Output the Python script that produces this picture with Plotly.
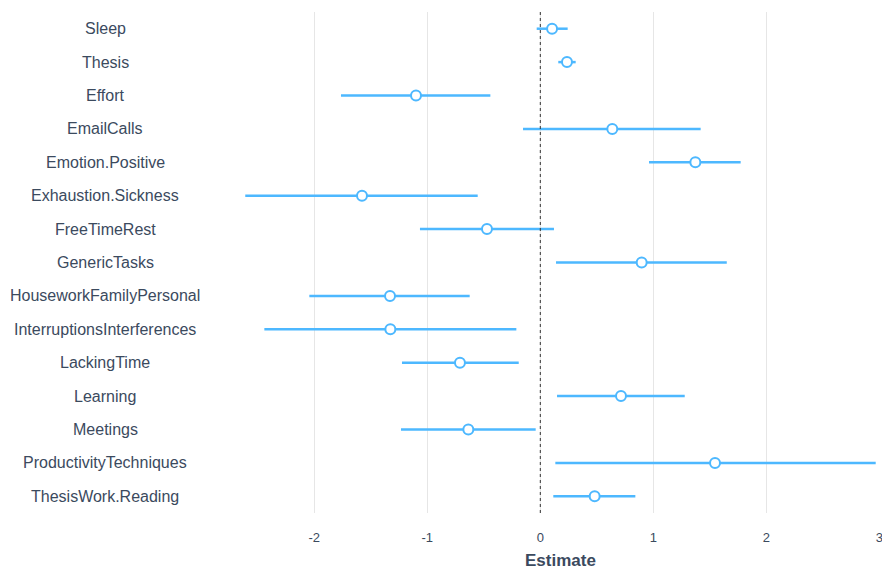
import plotly.graph_objects as go

# Coefficient estimates with 95% confidence intervals
terms = [
    "Sleep", "Thesis", "Effort", "EmailCalls", "Emotion.Positive",
    "Exhaustion.Sickness", "FreeTimeRest", "GenericTasks",
    "HouseworkFamilyPersonal", "InterruptionsInterferences", "LackingTime",
    "Learning", "Meetings", "ProductivityTechniques", "ThesisWork.Reading",
]
estimate = [0.104, 0.236, -1.100, 0.637, 1.372, -1.578, -0.472, 0.897,
            -1.330, -1.327, -0.711, 0.714, -0.637, 1.546, 0.481]
conf_low = [-0.032, 0.159, -1.764, -0.153, 0.962, -2.611, -1.065, 0.139,
            -2.044, -2.442, -1.224, 0.148, -1.233, 0.133, 0.115]
conf_high = [0.242, 0.313, -0.442, 1.419, 1.773, -0.554, 0.121, 1.650,
             -0.625, -0.212, -0.191, 1.278, -0.041, 2.968, 0.841]
x_ticks = [-2, -1, 0, 1, 2, 3]

BLUE = "#4db8ff"
TEXT = "#3b4a5e"
FONT = "Liberation Sans, Arial, sans-serif"

fig = go.Figure()
fig.add_trace(go.Scatter(
    x=estimate,
    y=terms,
    mode="markers",
    marker=dict(size=10, color="white", line=dict(color=BLUE, width=2)),
    error_x=dict(
        type="data",
        symmetric=False,
        array=[h - e for h, e in zip(conf_high, estimate)],
        arrayminus=[e - l for e, l in zip(estimate, conf_low)],
        color=BLUE,
        thickness=2.5,
        width=0,
    ),
    showlegend=False,
))

# Reference line at zero
fig.add_shape(type="line", xref="x", yref="paper", x0=0, x1=0, y0=0, y1=1,
              line=dict(color="#333333", width=1, dash="dot"), layer="above")

# Centered term labels to the left of the plot area
for t in terms:
    fig.add_annotation(text=t, x=-0.192, xref="paper", y=t, yref="y",
                       xanchor="center", yanchor="middle", showarrow=False,
                       font=dict(size=16, color=TEXT, family=FONT))

# Axis title
fig.add_annotation(text="<b>Estimate</b>", x=0.508, xref="paper", y=0, yref="paper",
                   xanchor="center", yanchor="middle", yshift=-47, showarrow=False,
                   font=dict(size=17, color=TEXT, family=FONT))

fig.update_layout(
    width=882, height=570,
    margin=dict(l=230, r=2, t=12, b=57),
    plot_bgcolor="white",
    paper_bgcolor="white",
    font=dict(family=FONT, color=TEXT),
    xaxis=dict(
        range=[-2.746, 3.006],
        tickvals=x_ticks,
        ticktext=[str(v) for v in x_ticks],
        showgrid=True, gridcolor="#e6e6e6", gridwidth=1,
        zeroline=False, showline=False, ticks="",
        ticklabelstandoff=15,
        ticklabeloverflow="allow",
        automargin=False,
        tickfont=dict(size=13, color=TEXT),
    ),
    yaxis=dict(
        categoryorder="array", categoryarray=terms,
        range=[14.5, -0.5],
        showgrid=False, zeroline=False, showline=False,
        showticklabels=False, ticks="",
        automargin=False,
    ),
)

fig.write_html("out.html")
